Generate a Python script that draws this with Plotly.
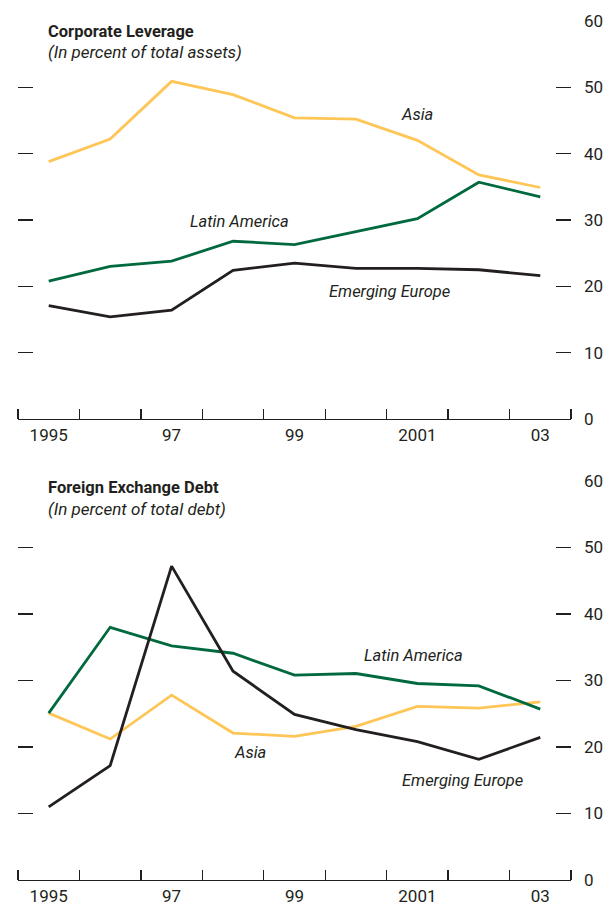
import plotly.graph_objects as go

years = [1995, 1996, 1997, 1998, 1999, 2000, 2001, 2002, 2003]
year_ticks = [1995, 1997, 1999, 2001, 2003]
year_labels = ["1995", "97", "99", "2001", "03"]
y_ticks = [0, 10, 20, 30, 40, 50, 60]

lev_asia = [38.8, 42.2, 50.9, 48.9, 45.4, 45.2, 42.0, 36.8, 34.9]
lev_latam = [20.8, 23.0, 23.8, 26.8, 26.3, 28.2, 30.2, 35.7, 33.5]
lev_europe = [17.1, 15.4, 16.4, 22.4, 23.5, 22.7, 22.7, 22.5, 21.6]

fx_asia = [25.1, 21.2, 27.8, 22.1, 21.6, 23.1, 26.1, 25.85, 26.8]
fx_latam = [25.1, 38.0, 35.2, 34.1, 30.8, 31.05, 29.55, 29.2, 25.7]
fx_europe = [11.0, 17.2, 47.2, 31.4, 24.9, 22.6, 20.8, 18.15, 21.45]

C_ASIA = "#FEC557"
C_LATAM = "#00693E"
C_EUR = "#231F20"
TXT = "#231F20"
FONT = "Roboto, Liberation Sans, sans-serif"

W, H = 609, 907

fig = go.Figure()

def add_lines(xa, ya, asia, latam, eur):
    for vals, col in [(asia, C_ASIA), (latam, C_LATAM), (eur, C_EUR)]:
        fig.add_trace(go.Scatter(x=years, y=vals, mode="lines", xaxis=xa, yaxis=ya,
                                 line=dict(color=col, width=2.8), showlegend=False,
                                 hoverinfo="skip"))

add_lines("x", "y", lev_asia, lev_latam, lev_europe)
add_lines("x2", "y2", fx_asia, fx_latam, fx_europe)

def ypx(p):
    return 1 - p / H

def xpx(p):
    return p / W

xdom = [xpx(18), xpx(571)]

xaxis_common = dict(
    range=[1994.5, 2003.5], domain=xdom, automargin=False,
    tickmode="array", tickvals=year_ticks, ticktext=year_labels,
    ticks="", showgrid=False, zeroline=False,
    showline=True, linecolor=TXT, linewidth=1.3,
    tickfont=dict(family=FONT, size=17, color=TXT),
    minor=dict(tickmode="array", tickvals=[1994.5 + i for i in range(10)],
               ticks="inside", ticklen=10, tickwidth=1.3, tickcolor=TXT, showgrid=False),
    fixedrange=True,
)
yaxis_common = dict(
    range=[0, 60], side="right", automargin=False,
    tickmode="array", tickvals=y_ticks,
    ticks="inside", ticklen=15, tickwidth=1.3, tickcolor=TXT, mirror="ticks",
    showgrid=False, zeroline=False, showline=False,
    tickfont=dict(family=FONT, size=17, color=TXT),
    ticklabelstandoff=12,
    fixedrange=True,
)

fig.update_layout(
    width=W, height=H,
    margin=dict(l=0, r=0, t=0, b=0, autoexpand=False),
    paper_bgcolor="white", plot_bgcolor="white",
    xaxis=dict(xaxis_common, anchor="y"),
    yaxis=dict(yaxis_common, anchor="x", domain=[ypx(419), ypx(21)]),
    xaxis2=dict(xaxis_common, anchor="y2"),
    yaxis2=dict(yaxis_common, anchor="x2", domain=[ypx(880), ypx(481)]),
)

titles = [
    ("<b>Corporate Leverage</b>", 31, 16.5),
    ("<i>(In percent of total assets)</i>", 52, 17),
    ("<b>Foreign Exchange Debt</b>", 488, 16.5),
    ("<i>(In percent of total debt)</i>", 509, 17),
]
for t, yp, fs in titles:
    fig.add_annotation(text=t, xref="paper", yref="paper", x=xpx(46), y=ypx(yp),
                       xanchor="left", yanchor="middle", showarrow=False,
                       font=dict(family=FONT, size=fs, color=TXT))

labels = [
    ("x", "y", "Asia", 2000.99, 45.85),
    ("x", "y", "Latin America", 1998.1, 29.7),
    ("x", "y", "Emerging Europe", 2000.54, 19.2),
    ("x2", "y2", "Latin America", 2000.94, 33.7),
    ("x2", "y2", "Asia", 1998.28, 19.2),
    ("x2", "y2", "Emerging Europe", 2001.73, 14.9),
]
for xa, ya, t, xv, yv in labels:
    fig.add_annotation(text="<i>" + t + "</i>", xref=xa, yref=ya, x=xv, y=yv,
                       xanchor="center", yanchor="middle", showarrow=False,
                       font=dict(family=FONT, size=16.5, color=TXT))

fig.write_html("out.html",
               config={"displayModeBar": False, "staticPlot": True},
               post_script="document.body.style.margin='0';document.body.style.overflow='hidden';")
